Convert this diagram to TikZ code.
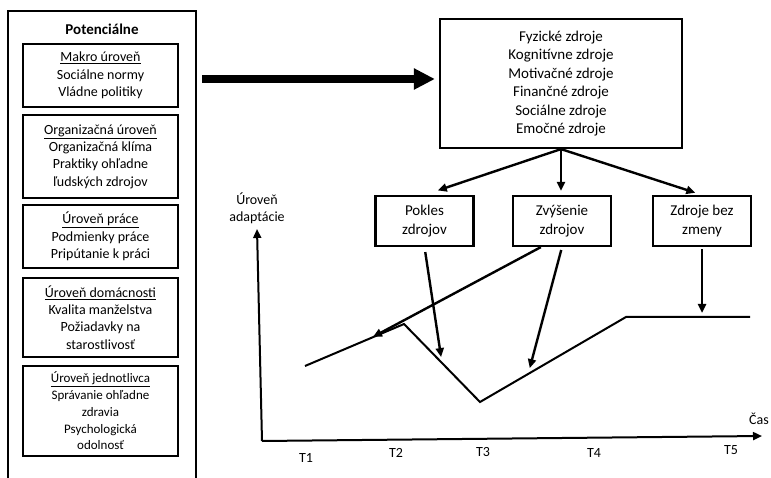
\documentclass[tikz,border=0pt]{standalone}
\usepackage{fontspec}
\setmainfont{Carlito}
\usetikzlibrary{arrows.meta,calc}

\begin{document}
\begin{tikzpicture}[x=1pt,y=-1pt,
  box/.style={draw,line width=2.2pt,inner sep=0pt,align=center},
  lvl/.style={box,minimum width=155pt,font=\fontsize{14}{17.3}\selectfont},
  res/.style={box,minimum width=98pt,minimum height=50pt,font=\fontsize{15}{19.5}\selectfont},
  txt/.style={inner sep=0pt,align=center,font=\fontsize{14}{17}\selectfont},
  link/.style={line width=2.4pt,-{Triangle[length=9pt,width=8pt]}},
  curve/.style={line width=2pt,line join=miter}]
  \useasboundingbox (0,0) rectangle (771,478);
  \clip (0,0) rectangle (771,478);
  % left column of factors
  \node[box,line width=2.4pt,minimum width=188pt,minimum height=489pt] (pot) at (102,255.5) {};
  \node[txt,font=\fontsize{15}{17}\selectfont\bfseries] (pottitle) at (102,29) {Potenciálne};
  \node[lvl,minimum height=63pt] (makro) at (100.5,75.5) {\underline{Makro úroveň}\\Sociálne normy\\Vládne politiky};
  \node[lvl,minimum height=83pt] (org) at (100.5,156.5) {\underline{Organizačná úroveň}\\Organizačná klíma\\Praktiky ohľadne\\ľudských zdrojov};
  \node[lvl,minimum height=63pt] (praca) at (100.5,236.5) {\underline{Úroveň práce}\\Podmienky práce\\Pripútanie k práci};
  \node[lvl,minimum height=79pt] (dom) at (100.5,317.5) {\underline{Úroveň domácnosti}\\Kvalita manželstva\\Požiadavky na\\starostlivosť};
  \node[lvl,minimum height=90pt,font=\fontsize{13}{16.8}\selectfont] (jedn) at (100.5,411) {\underline{Úroveň jednotlivca}\\Správanie ohľadne\\zdravia\\Psychologická\\odolnosť};
  % resources
  \node[box,minimum width=242pt,minimum height=129pt,font=\fontsize{15}{18.4}\selectfont] (zdroje) at (561,83.5)
    {Fyzické zdroje\\Kognitívne zdroje\\Motivačné zdroje\\Finančné zdroje\\Sociálne zdroje\\Emočné zdroje};
  \node[res] (pokles) at (424.5,221) {Pokles\\zdrojov};
  \node[res] (zvysenie) at (562,221) {Zvýšenie\\zdrojov};
  \node[res] (bez) at (702,221) {Zdroje bez\\zmeny};
  \coordinate (arrowstart) at (202,79);
  \draw[line width=8pt,-{Triangle[length=21pt,width=20pt]},shorten >=4pt] (arrowstart) -- (arrowstart -| zdroje.west);
  \draw[link,shorten >=14pt] (zdroje.south) -- (pokles.north);
  \draw[link,shorten >=4pt] (zdroje.south) -- (zdroje.south |- zvysenie.north);
  \draw[link,shorten >=7pt] (zdroje.south) -- (bez.north);
  % axes
  \coordinate (O) at (262,441); \coordinate (ytip) at (257,229); \coordinate (xtip) at (762,436);
  \draw[line width=2pt,-{Triangle[length=9pt,width=8pt]}] (O) -- (ytip);
  \draw[line width=2pt,-{Triangle[length=9pt,width=8pt]}] (O) -- (xtip);
  \node[txt] (ylab) at (257,208) {Úroveň\\adaptácie};
  \node[txt] (xlab) at (759,419) {Čas};
  \node[txt] (t1) at (306,458) {T1}; \node[txt] (t2) at (396,453) {T2};
  \node[txt] (t3) at (483,452) {T3}; \node[txt] (t4) at (594,453) {T4};
  \node[txt] (t5) at (731,450) {T5};
  % adaptation curve
  \coordinate (a1) at (305,366); \coordinate (a2) at (404,324); \coordinate (a3) at (480,402);
  \coordinate (a4) at (626,317); \coordinate (a5) at (750,317);
  \draw[curve] (a1) -- (a2) -- (a3) -- (a4) -- (a5);
  \draw[link,shorten <=5pt,shorten >=6pt] (pokles.south) -- ($(a2)!0.5!(a3)$);
  \draw[link,shorten >=3pt] (zvysenie.231) -- ($(a1)!0.66!(a2)$);
  \draw[link,shorten <=3pt,shorten >=6pt] (zvysenie.south) -- ($(a3)!0.33!(a4)$);
  \draw[link,shorten <=2pt,shorten >=4pt] (bez.south) -- (bez.south |- a5);
\end{tikzpicture}
\end{document}
